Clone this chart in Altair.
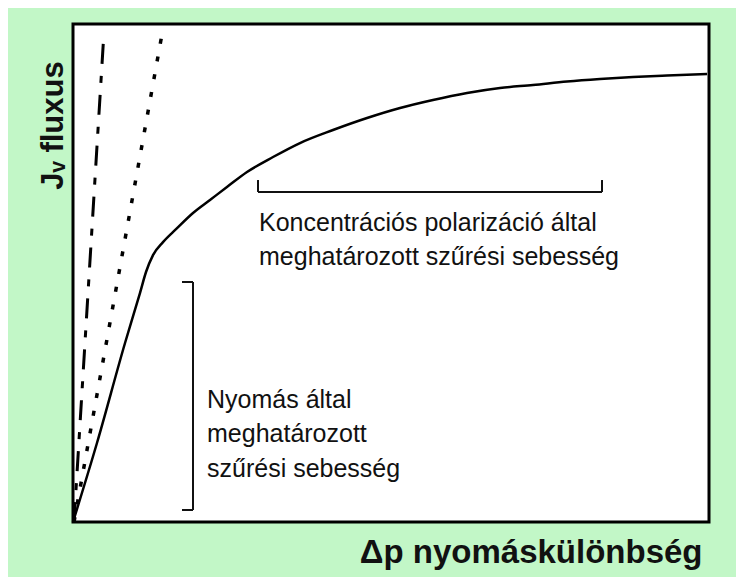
import altair as alt
import pandas as pd

# Chart units: x = pressure difference (0-100), y = flux (0-100)
# Solid curve: real flux
flux_x = [0, 3.77, 8.18, 10.53, 11.48, 12.58, 14.15, 16.20, 18.87, 21.54, 24.21, 27.36, 31.45,
          35.69, 40.88, 46.23, 51.42, 56.60, 61.95, 67.14, 72.33, 77.67, 82.86, 88.05, 93.40, 99.69]
flux_y = [0, 15.86, 35.94, 45.98, 50.20, 53.60, 56.20, 58.80, 62.05, 64.66, 67.27, 70.28, 73.29,
          76.10, 78.71, 81.12, 83.13, 84.74, 86.14, 87.15, 87.75, 88.45, 88.96, 89.36, 89.66, 89.96]

# Dotted straight line
dot_x = [0.16, 14.0]
dot_y = [0.0, 98.0]

# Dash-dot straight line
dashdot_x = [0.16, 4.87]
dashdot_y = [0.0, 98.4]

# Bracket segments (x, x2, y, y2)
br_x = [29.09, 29.09, 83.18, 18.87, 17.14, 17.14]
br_x2 = [83.18, 29.09, 83.18, 18.87, 18.87, 18.87]
br_y = [66.27, 66.27, 66.27, 2.41, 48.19, 2.41]
br_y2 = [66.27, 68.67, 68.67, 48.19, 48.19, 2.41]

# Annotation lines
note_text = ["Koncentrációs polarizáció által", "meghatározott szűrési sebesség",
             "Nyomás által", "meghatározott", "szűrési sebesség"]
note_x = [29.25, 29.25, 21.07, 21.07, 21.07]
note_y = [58.43, 51.51, 22.89, 16.06, 9.04]

x_title = "Δp nyomáskülönbség"
y_title = "Jᵥ fluxus"

FONT = "Liberation Sans, Arial, Helvetica, sans-serif"

xs = alt.Scale(domain=[0, 100], nice=False, zero=False)
ys = alt.Scale(domain=[0, 100], nice=False, zero=False)

xaxis = alt.Axis(title=x_title, domain=False, ticks=False, labels=False, grid=False,
                 titleFont=FONT, titleFontSize=33, titleFontWeight="bold", titleColor="#111111",
                 titleAlign="right", titleBaseline="alphabetic", titleAngle=0,
                 titleX=629, titleY=40)
yaxis = alt.Axis(title=y_title, domain=False, ticks=False, labels=False, grid=False,
                 titleFont=FONT, titleFontSize=31, titleFontWeight="bold", titleColor="#111111",
                 titleAlign="center", titleBaseline="alphabetic", titleAngle=270,
                 titleX=-11, titleY=101)

X = alt.X("x:Q", scale=xs, axis=xaxis)
Y = alt.Y("y:Q", scale=ys, axis=yaxis)

curve = alt.Chart(pd.DataFrame({"x": flux_x, "y": flux_y})).mark_line(
    interpolate="monotone", color="black", strokeWidth=2.5
).encode(x=X, y=Y)

dotted = alt.Chart(pd.DataFrame({"x": dot_x, "y": dot_y})).mark_line(
    color="black", strokeWidth=3.5, strokeDash=[5, 13], strokeCap="butt"
).encode(x=X, y=Y)

dashdot = alt.Chart(pd.DataFrame({"x": dashdot_x, "y": dashdot_y})).mark_line(
    color="black", strokeWidth=3, strokeDash=[20, 12, 7, 12], strokeCap="butt"
).encode(x=X, y=Y)

brackets = alt.Chart(pd.DataFrame({"x": br_x, "x2": br_x2, "y": br_y, "y2": br_y2})).mark_rule(
    color="#111111", strokeWidth=2
).encode(x=X, x2="x2:Q", y=Y, y2="y2:Q")

notes = alt.Chart(pd.DataFrame({"x": note_x, "y": note_y, "t": note_text})).mark_text(
    align="left", baseline="alphabetic", font=FONT, fontSize=25, color="#111111"
).encode(x=X, y=Y, text="t:N")

chart = alt.layer(dotted, dashdot, curve, brackets, notes).properties(
    width=636, height=498,
    background="#C2F7C7",
    padding={"left": 65, "top": 16, "right": 27, "bottom": 55},
    autosize=alt.AutoSizeParams(type="none"),
).configure_view(fill="white", stroke="black", strokeWidth=3)

chart.save("out.html", embed_options={"renderer": "svg", "actions": False})
